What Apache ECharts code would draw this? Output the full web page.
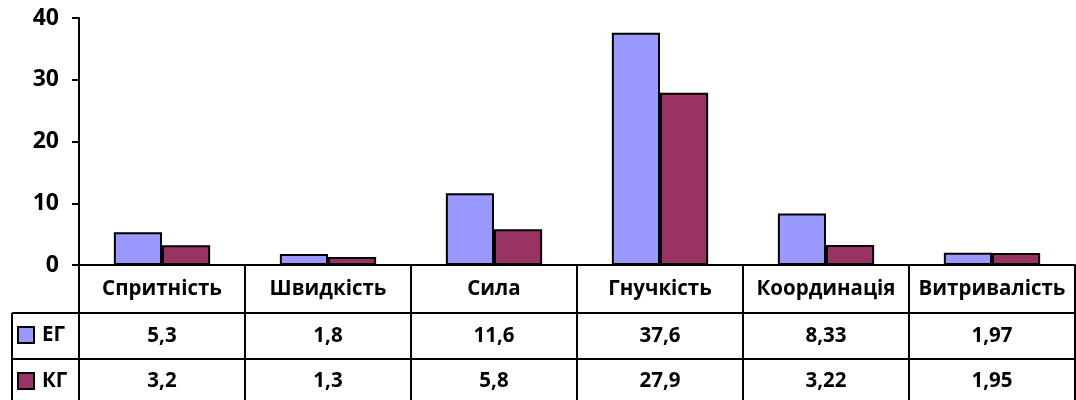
<!DOCTYPE html>
<html>
<head>
<meta charset="utf-8">
<script src="https://cdn.jsdelivr.net/npm/echarts@6/dist/echarts.min.js"></script>
<style>
  html, body { margin: 0; padding: 0; background: #fff; }
  #chart { width: 1076px; height: 400px; }
</style>
</head>
<body>
<div id="chart"></div>
<script>
// Physical qualities: experimental (ЕГ) vs control (КГ) groups
const categories = ['Спритність', 'Швидкість', 'Сила', 'Гнучкість', 'Координація', 'Витривалість'];
const seriesNames = ['ЕГ', 'КГ'];
const egValues = [5.3, 1.8, 11.6, 37.6, 8.33, 1.97];
const kgValues = [3.2, 1.3, 5.8, 27.9, 3.22, 1.95];
const yTicks = { min: 0, max: 40, interval: 10 };

const FONT = '"Open Sans", "Noto Sans", sans-serif';
const INK = '#000';
const fmt = v => String(v).replace('.', ',');

const chart = echarts.init(document.getElementById('chart'), null, { renderer: 'canvas' });

const GRID = { left: 79, right: 1, top: 18, bottom: 135 };
const ROW1 = 48;   // header row height (category names)
const ROW2 = 46;   // ЕГ row height

const baseLabel = { fontFamily: FONT, fontWeight: 'bold', fontSize: 20.5, color: INK, lineHeight: 24 };

function valueAxis(values, offset, margin) {
  return {
    type: 'category',
    position: 'bottom',
    offset: offset,
    data: values.map(fmt),
    axisLine: { show: true, lineStyle: { color: INK, width: 2 } },
    axisTick: { show: false },
    axisLabel: Object.assign({ margin: margin, interval: 0 }, baseLabel)
  };
}

chart.setOption({
  animation: false,
  backgroundColor: '#fff',
  grid: GRID,
  legend: {
    data: seriesNames,
    orient: 'vertical',
    left: 17,
    top: 323,
    padding: 0,
    icon: 'rect',
    itemWidth: 16,
    itemHeight: 16,
    itemGap: 22,
    textStyle: { fontFamily: FONT, fontWeight: 'bold', fontSize: 20.5, color: INK, lineHeight: 24, padding: [0, 0, 0, 3] }
  },
  xAxis: [
    {
      type: 'category',
      data: categories,
      position: 'bottom',
      axisLine: { show: true, lineStyle: { color: INK, width: 2 } },
      // long boundary ticks form the column separators of the data table
      axisTick: { show: true, alignWithLabel: false, length: 135, lineStyle: { color: INK, width: 2 } },
      axisLabel: Object.assign({ margin: 12, interval: 0 }, baseLabel)
    },
    valueAxis(egValues, ROW1, 11),
    valueAxis(kgValues, ROW1 + ROW2, 10)
  ],
  yAxis: {
    type: 'value',
    min: yTicks.min,
    max: yTicks.max,
    interval: yTicks.interval,
    axisLine: { show: true, lineStyle: { color: INK, width: 2 } },
    axisTick: { show: true, length: 7, lineStyle: { color: INK, width: 2 } },
    splitLine: { show: false },
    axisLabel: { fontFamily: FONT, fontWeight: 'bold', fontSize: 23, color: INK, margin: 20 }
  },
  series: [
    {
      name: seriesNames[0],
      type: 'bar',
      data: egValues,
      barGap: '0%',
      barCategoryGap: '42%',
      itemStyle: { color: '#9999FF', borderColor: INK, borderWidth: 2 }
    },
    {
      name: seriesNames[1],
      type: 'bar',
      data: kgValues,
      itemStyle: { color: '#993366', borderColor: INK, borderWidth: 2 }
    }
  ]
});

// Left column of the data table (legend keys) – its frame lines
const h = 400;
const tableTop = h - GRID.bottom;
const yRow2 = tableTop + ROW1;
const yRow3 = yRow2 + ROW2;
const xL = 12, xR = GRID.left;
const ls = { stroke: INK, lineWidth: 2 };
chart.setOption({
  graphic: [
    { type: 'line', shape: { x1: xL, y1: yRow2, x2: xR, y2: yRow2 }, style: ls, z: 10 },
    { type: 'line', shape: { x1: xL, y1: yRow3, x2: xR, y2: yRow3 }, style: ls, z: 10 },
    { type: 'line', shape: { x1: xL, y1: yRow2, x2: xL, y2: h }, style: ls, z: 10 }
  ]
});
</script>
</body>
</html>
